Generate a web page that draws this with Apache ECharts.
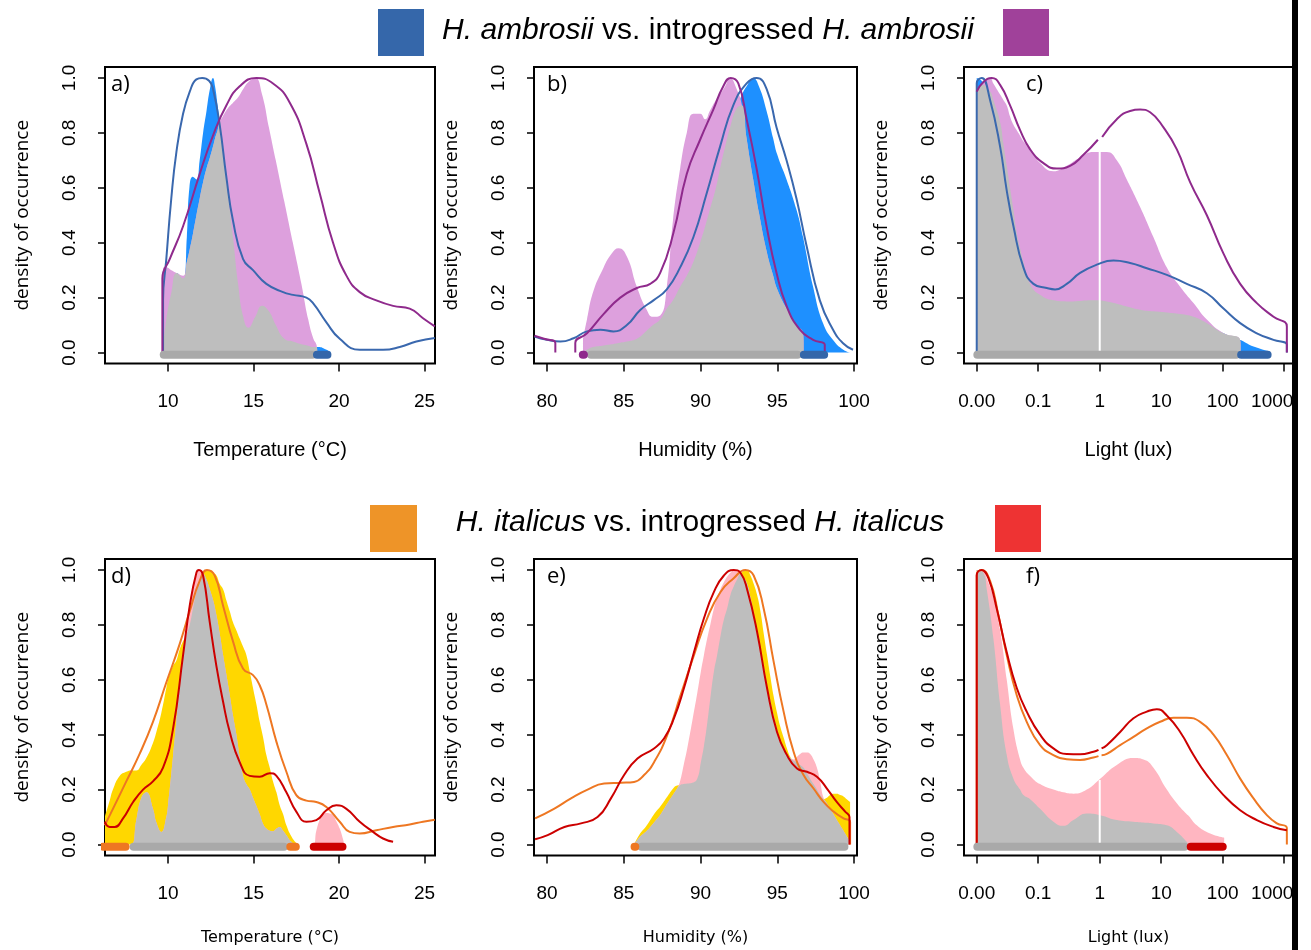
<!DOCTYPE html>
<html>
<head>
<meta charset="utf-8">
<script src="https://cdn.jsdelivr.net/npm/echarts@6/dist/echarts.min.js"></script>
<style>html,body{margin:0;padding:0;background:#fff}#c{width:1311px;height:950px}</style>
</head>
<body>
<div id="c"></div>
<script>
// ---------- tick labels ----------
const densTicks = [0, 0.2, 0.4, 0.6, 0.8, 1.0];
const tempTicks = [10, 15, 20, 25];
const humTicks = [80, 85, 90, 95, 100];
const lightTicks = [-2, -1, 0, 1, 2, 3];
const lightTickLabels = ['0.00', '0.1', '1', '10', '100', '1000'];

// ---------- panel a: temperature, H. ambrosii ----------
const aX = [9.71,9.9,10.2,10.5,10.88,11.1,11.25,11.45,11.66,11.85,12.05,12.25,12.45,12.63,12.75,12.9,13.02,13.2,13.5,13.8,14.1,14.4,14.7,15.1,15.5,15.9,16.3,16.8,17.3,17.8,18.2,18.5,18.67,18.8,19.2,19.55];
const aAmb = [0.02,0.12,0.22,0.29,0.27,0.42,0.6,0.64,0.63,0.7,0.8,0.88,0.96,1.0,0.97,0.9,0.84,0.74,0.58,0.42,0.25,0.13,0.09,0.13,0.17,0.15,0.1,0.05,0.04,0.03,0.025,0.02,0.02,0.02,0.012,0.0];
const aIntro = [0.31,0.31,0.3,0.29,0.28,0.33,0.37,0.43,0.5,0.56,0.62,0.67,0.71,0.75,0.78,0.81,0.84,0.86,0.89,0.91,0.93,0.96,0.985,1.0,0.94,0.82,0.7,0.55,0.4,0.25,0.12,0.05,0.03,0,0,0];
const aLineAmb = [[9.71,0],[9.71,0.19],[9.9,0.34],[10.19,0.56],[10.49,0.73],[10.88,0.87],[11.27,0.95],[11.66,0.995],[12.0,1.0],[12.4,0.99],[12.63,0.96],[13.02,0.83],[13.41,0.64],[13.8,0.48],[14.39,0.34],[14.97,0.3],[15.75,0.25],[16.73,0.22],[17.31,0.21],[18.09,0.2],[18.48,0.18],[19.26,0.11],[20.04,0.05],[21.21,0.01],[22.57,0.01],[23.55,0.02],[24.52,0.04],[25.6,0.053]];
const aLineIntro = [[9.67,0],[9.67,0.27],[10.1,0.34],[10.88,0.46],[11.85,0.65],[12.63,0.79],[13.41,0.9],[14.19,0.97],[15.17,1.0],[16.14,0.98],[17.12,0.91],[18.09,0.76],[18.87,0.58],[19.65,0.4],[20.43,0.28],[21.21,0.22],[22.18,0.19],[23.16,0.17],[24.13,0.16],[24.91,0.125],[25.6,0.095]];
const aRangeShared = [9.75, 18.44];
const aRangeAmb = [18.71, 19.32];

// ---------- panel b: humidity, H. ambrosii ----------
const bX = [82.34,82.6,83.0,83.6,84.2,84.66,85.2,85.85,86.5,86.9,87.37,87.8,88.2,88.67,89.1,89.53,89.97,90.3,90.6,91.0,91.27,91.6,91.92,92.35,92.7,93.0,93.43,93.8,94.3,94.73,95.0,95.6,96.25,96.68,96.75,97.33,97.98,98.63,99.3,99.72];
const bAmb = [0.0,0.01,0.02,0.025,0.03,0.035,0.04,0.05,0.08,0.1,0.12,0.16,0.19,0.24,0.28,0.33,0.4,0.46,0.52,0.6,0.67,0.75,0.82,0.89,0.94,0.97,1.0,0.97,0.88,0.78,0.72,0.63,0.52,0.42,0.4,0.24,0.107,0.046,0.01,0.0];
const bIntro = [0.05,0.12,0.22,0.3,0.36,0.38,0.35,0.24,0.155,0.13,0.135,0.24,0.48,0.67,0.8,0.87,0.87,0.85,0.88,0.92,0.94,0.97,1.0,0.96,0.9,0.78,0.63,0.51,0.37,0.28,0.23,0.16,0.1,0.07,0,0,0,0,0,0];
const bLineAmb = [[79.18,0.058],[80.0,0.046],[80.87,0.04],[81.73,0.052],[82.6,0.077],[83.47,0.083],[84.33,0.077],[85.2,0.1],[86.07,0.155],[86.93,0.19],[87.8,0.23],[88.67,0.31],[89.53,0.42],[90.4,0.58],[91.27,0.75],[92.13,0.9],[93.0,0.98],[93.65,1.0],[94.3,0.96],[94.95,0.82],[95.6,0.7],[96.25,0.56],[96.9,0.39],[97.77,0.19],[98.63,0.083],[99.28,0.034],[99.93,0.01]];
const bLineIntro = [[79.18,0.061],[79.8,0.05],[80.54,0.035],[80.54,0],[81.2,null],[81.84,0],[81.84,0.035],[82.6,0.07],[83.68,0.14],[84.77,0.2],[85.85,0.235],[86.72,0.25],[87.37,0.29],[88.23,0.435],[89.1,0.65],[89.97,0.775],[90.83,0.885],[91.48,0.97],[91.96,1.0],[92.46,0.98],[93.0,0.85],[93.65,0.67],[94.3,0.46],[94.95,0.29],[95.6,0.17],[96.47,0.083],[97.33,0.046],[98.09,0.028],[98.09,0]];
const bRangeIntro = [82.33, 82.4];
const bRangeShared = [82.86, 96.32];
const bRangeAmb = [96.73, 98.05];

// ---------- panel c: light, H. ambrosii (log10 lux) ----------
const cX = [-2.0,-1.92,-1.78,-1.73,-1.62,-1.566,-1.512,-1.458,-1.403,-1.349,-1.295,-1.241,-1.132,-0.97,-0.753,-0.536,-0.319,-0.102,0.115,0.278,0.44,0.657,0.874,1.091,1.308,1.525,1.742,2.013,2.284,2.3,2.501,2.772];
const cAmb = [1.0,0.99,0.95,0.92,0.84,0.76,0.68,0.6,0.52,0.435,0.38,0.33,0.25,0.21,0.19,0.186,0.188,0.19,0.186,0.178,0.168,0.156,0.15,0.146,0.14,0.13,0.107,0.07,0.046,0.045,0.022,0.004];
const cIntro = [0.95,0.975,1.0,0.98,0.94,0.92,0.9,0.86,0.83,0.81,0.79,0.77,0.74,0.69,0.66,0.68,0.71,0.73,0.73,0.7,0.63,0.53,0.42,0.31,0.24,0.18,0.12,0.07,0.046,0,0,0];
const cLineAmb = [[-2.0,0],[-2.0,0.98],[-1.919,1.0],[-1.783,0.92],[-1.62,0.75],[-1.512,0.59],[-1.403,0.46],[-1.241,0.31],[-1.078,0.25],[-0.861,0.235],[-0.726,0.23],[-0.536,0.25],[-0.319,0.29],[-0.048,0.32],[0.223,0.335],[0.495,0.326],[0.766,0.307],[1.091,0.283],[1.416,0.25],[1.742,0.216],[2.013,0.16],[2.284,0.107],[2.555,0.07],[2.826,0.046],[3.043,0.028],[3.043,0]];
const cLineIntro = [[-2.0,0.95],[-1.892,0.985],[-1.756,1.0],[-1.62,0.975],[-1.458,0.9],[-1.295,0.81],[-1.132,0.74],[-0.915,0.69],[-0.698,0.67],[-0.482,0.68],[-0.265,0.72],[-0.03,0.775],[0,null],[0.04,0.785],[0.278,0.85],[0.495,0.88],[0.657,0.885],[0.82,0.875],[1.037,0.82],[1.254,0.74],[1.471,0.62],[1.742,0.5],[2.013,0.36],[2.284,0.25],[2.555,0.18],[2.826,0.13],[3.043,0.095],[3.043,0]];
const cSeam = [[0,0],[0,0.73]];
const cRangeShared = [-1.99, 2.22];
const cRangeAmb = [2.3, 2.73];

// ---------- panel d: temperature, H. italicus ----------
const dX = [6.3,6.59,6.78,7.17,7.56,7.86,8.15,8.44,8.73,9.12,9.32,9.61,9.9,10.0,10.29,10.49,10.68,10.88,11.07,11.27,11.46,11.66,11.85,12.05,12.25,12.44,12.64,12.83,13.02,13.22,13.41,13.61,13.8,14.0,14.19,14.39,14.58,14.78,14.97,15.17,15.36,15.56,15.75,15.95,16.14,16.34,16.53,16.73,16.92,17.21,17.5,17.6,18.48,18.67,18.87,19.06,19.26,19.45,19.65,19.84,20.04,20.23,20.3];
const dIta = [0.1,0.16,0.2,0.25,0.265,0.27,0.27,0.29,0.315,0.37,0.41,0.48,0.57,0.6,0.65,0.67,0.71,0.74,0.76,0.8,0.86,0.92,0.96,0.985,1.0,1.0,0.99,0.98,0.95,0.93,0.89,0.85,0.81,0.78,0.75,0.72,0.69,0.63,0.57,0.51,0.447,0.39,0.326,0.28,0.23,0.19,0.143,0.11,0.07,0.03,0.005,0,0,0,0,0,0,0,0,0,0,0,0];
const dIntro = [0,0,0,0,0,0,0.09,0.17,0.19,0.13,0.08,0.046,0.1,0.143,0.32,0.45,0.58,0.7,0.8,0.88,0.94,0.98,1.0,0.99,0.965,0.93,0.89,0.836,0.77,0.69,0.62,0.545,0.47,0.4,0.32,0.25,0.22,0.2,0.17,0.14,0.11,0.075,0.058,0.05,0.048,0.058,0.064,0.05,0.034,0.01,0,0,0,0.05,0.09,0.11,0.115,0.113,0.107,0.085,0.058,0.02,0];
const dLineIta = [[6.3,0.07],[6.78,0.13],[7.56,0.23],[8.34,0.33],[9.12,0.447],[9.9,0.59],[10.68,0.73],[11.27,0.85],[11.85,0.96],[12.28,1.0],[12.73,0.98],[13.22,0.87],[13.8,0.74],[14.39,0.64],[14.97,0.617],[15.36,0.58],[15.75,0.51],[16.34,0.374],[16.92,0.265],[17.5,0.18],[18.09,0.16],[18.67,0.155],[19.26,0.137],[20.04,0.083],[20.62,0.046],[21.21,0.04],[22.18,0.052],[23.16,0.064],[24.13,0.073],[24.91,0.083],[25.6,0.09]];
const dLineIntro = [[6.3,0.083],[6.59,0.064],[6.88,0.064],[7.37,0.095],[7.96,0.155],[8.54,0.2],[9.12,0.23],[9.71,0.28],[10.29,0.42],[10.88,0.69],[11.27,0.87],[11.66,0.99],[11.81,1.0],[12.05,0.98],[12.44,0.81],[12.83,0.65],[13.22,0.52],[13.61,0.41],[14.19,0.3],[14.78,0.25],[15.36,0.247],[15.95,0.26],[16.34,0.25],[16.92,0.19],[17.5,0.12],[18.09,0.083],[18.67,0.089],[19.26,0.125],[19.84,0.143],[20.43,0.13],[21.21,0.083],[21.99,0.046],[22.57,0.022],[23.16,0.01]];
const dRangeItaLow = [6.2, 7.52];
const dRangeShared = [7.99, 16.78];
const dRangeItaHigh = [17.15, 17.47];
const dRangeIntro = [18.52, 20.2];

// ---------- panel e: humidity, H. italicus ----------
const eX = [85.67,86.0,86.5,86.97,87.4,87.84,88.31,88.48,88.66,88.9,89.13,89.46,89.78,90.02,90.22,90.43,90.63,90.87,91.08,91.3,91.52,91.73,91.95,92.16,92.38,92.6,92.77,93.03,93.25,93.46,93.68,93.9,94.11,94.33,94.55,94.76,94.98,95.19,95.41,95.63,95.84,96.06,96.28,96.49,96.71,96.93,97.14,97.36,97.58,97.79,98.01,98.23,98.44,98.66,98.87,99.09,99.31,99.52,99.74];
const eIta = [0.0,0.035,0.07,0.11,0.14,0.175,0.21,0.215,0.216,0.22,0.222,0.225,0.24,0.3,0.36,0.44,0.53,0.63,0.69,0.76,0.82,0.86,0.91,0.94,0.965,0.985,0.995,1.0,0.98,0.95,0.91,0.85,0.77,0.69,0.61,0.54,0.48,0.43,0.39,0.35,0.32,0.305,0.3,0.29,0.28,0.26,0.24,0.22,0.2,0.18,0.165,0.17,0.18,0.185,0.185,0.18,0.175,0.165,0.155];
const eIntro = [0,0.025,0.05,0.08,0.11,0.15,0.19,0.205,0.23,0.29,0.35,0.45,0.55,0.63,0.69,0.75,0.8,0.86,0.9,0.93,0.955,0.975,0.99,0.998,1.0,0.99,0.975,0.95,0.9,0.84,0.78,0.71,0.65,0.58,0.52,0.47,0.42,0.38,0.35,0.33,0.315,0.31,0.32,0.33,0.335,0.335,0.33,0.31,0.28,0.23,0.17,0.15,0.13,0.11,0.09,0.07,0.05,0.03,0.01];
const eLineIta = [[79.22,0.095],[80.48,0.131],[81.56,0.168],[82.64,0.2],[83.72,0.222],[84.81,0.225],[85.67,0.228],[86.32,0.253],[86.97,0.3],[87.84,0.4],[88.7,0.544],[89.57,0.69],[90.43,0.824],[91.3,0.92],[92.16,0.97],[92.92,1.0],[93.46,0.98],[94.11,0.86],[94.76,0.666],[95.41,0.484],[96.06,0.338],[96.71,0.253],[97.36,0.204],[98.01,0.155],[98.66,0.12],[99.31,0.095],[99.74,0.083],[99.74,0]];
const eLineIntro = [[79.22,0.019],[80.04,0.034],[81.13,0.064],[82.21,0.077],[83.29,0.1],[84.16,0.168],[85.02,0.253],[85.89,0.313],[86.97,0.35],[87.62,0.386],[88.27,0.46],[88.92,0.57],[89.57,0.7],[90.22,0.824],[90.87,0.92],[91.52,0.98],[92.16,1.0],[92.6,0.99],[93.03,0.93],[93.68,0.775],[94.33,0.57],[94.98,0.41],[95.63,0.326],[96.28,0.277],[96.93,0.265],[97.58,0.247],[98.23,0.204],[98.87,0.155],[99.42,0.12],[99.7,0.1],[99.7,0]];
const eRangeItaLow = [85.7, 85.75];
const eRangeShared = [86.15, 99.37];
const eRangeItaHigh = [99.68, 99.72];

// ---------- panel f: light, H. italicus (log10 lux) ----------
const fX = [-2.0,-1.892,-1.837,-1.729,-1.62,-1.512,-1.403,-1.295,-1.241,-1.132,-0.97,-0.753,-0.59,-0.427,-0.21,0.007,0.278,0.549,0.711,0.874,1.091,1.254,1.416,1.444,1.579,1.796,2.024];
const fIta = [1.0,0.99,0.93,0.75,0.51,0.326,0.24,0.2,0.18,0.165,0.13,0.083,0.068,0.089,0.113,0.107,0.089,0.083,0.08,0.077,0.07,0.046,0.01,0,0,0,0];
const fIntro = [1.0,1.0,0.97,0.9,0.78,0.6,0.42,0.31,0.28,0.25,0.22,0.2,0.19,0.185,0.2,0.24,0.29,0.315,0.31,0.28,0.2,0.15,0.11,0.105,0.07,0.04,0.025];
const fLineIta = [[-2.0,0],[-2.0,0.98],[-1.919,1.0],[-1.783,0.96],[-1.648,0.836],[-1.512,0.69],[-1.349,0.544],[-1.187,0.447],[-0.97,0.362],[-0.753,0.326],[-0.536,0.311],[-0.319,0.308],[-0.102,0.317],[-0.02,0.322],[0,null],[0.03,0.325],[0.115,0.33],[0.332,0.362],[0.549,0.392],[0.766,0.423],[0.983,0.447],[1.2,0.462],[1.416,0.462],[1.633,0.447],[1.85,0.4],[2.067,0.326],[2.284,0.24],[2.501,0.168],[2.718,0.107],[2.881,0.077],[3.043,0.06],[3.043,0]];
const fLineIntro = [[-2.0,0],[-2.0,0.98],[-1.919,1.0],[-1.81,0.97],[-1.675,0.86],[-1.512,0.7],[-1.349,0.57],[-1.187,0.484],[-0.97,0.4],[-0.753,0.35],[-0.536,0.33],[-0.319,0.329],[-0.102,0.338],[-0.02,0.345],[0,null],[0.03,0.35],[0.115,0.362],[0.332,0.41],[0.549,0.46],[0.766,0.484],[0.928,0.493],[1.091,0.47],[1.308,0.41],[1.525,0.326],[1.742,0.253],[2.013,0.18],[2.284,0.125],[2.555,0.089],[2.826,0.064],[3.043,0.052]];
const fSeam = [[0,0],[0,0.235]];
const fRangeShared = [-1.99, 1.38];
const fRangeIntro = [1.48, 2.0];

// ---------- styling ----------
const C = {
  ambFill:'#1E90FF', ambIntroFill:'#DDA0DD', itaFill:'#FFD700', itaIntroFill:'#FFB6C1', overlap:'#BEBEBE',
  ambLine:'#3A68AE', ambIntroLine:'#8F2A8C', itaLine:'#EE7722', itaIntroLine:'#CC0000',
  shared:'#A9A9A9', ambBar:'#3466A9'
};
const BAR_Y = -0.008;
const SMOOTH = 0.5;
const GRIDS = [
  {left:105, top:67, width:330, height:296.5},
  {left:534, top:67, width:323, height:296.5},
  {left:964, top:67, width:329, height:296.5},
  {left:105, top:559, width:330, height:296.5},
  {left:534, top:559, width:323, height:296.5},
  {left:964, top:559, width:329, height:296.5}
];
const TEMP_RANGE = [6.316, 25.61], HUM_RANGE = [79.15, 100.19], LIGHT_RANGE = [-2.207, 3.143];

const topName = {fontSize:20, fontFamily:'Liberation Sans', color:'#000'};
const botName = {fontSize:16, fontFamily:'DejaVu Sans', color:'#000'};
const lightFmt = v => {
  const s = lightTickLabels[lightTicks.indexOf(Math.round(v))];
  return s === '1000' ? '{r|' + s + '}' : s;
};
const numFmt = v => String(v);

const panels = [
  {x:aX, f1:aAmb, f2:aIntro, c1:C.ambFill, c2:C.ambIntroFill, l1:aLineAmb, l2:aLineIntro, lc1:C.ambLine, lc2:C.ambIntroLine,
   range:TEMP_RANGE, ticks:tempTicks, fmt:numFmt, name:'Temperature (°C)', ns:topName, ng:77,
   bars:[[aRangeShared,C.shared],[aRangeAmb,C.ambBar]], label:'a)', lx:111},
  {x:bX, f1:bAmb, f2:bIntro, c1:C.ambFill, c2:C.ambIntroFill, l1:bLineAmb, l2:bLineIntro, lc1:C.ambLine, lc2:C.ambIntroLine,
   range:HUM_RANGE, ticks:humTicks, fmt:numFmt, name:'Humidity (%)', ns:topName, ng:77,
   bars:[[bRangeShared,C.shared],[bRangeIntro,C.ambIntroLine],[bRangeAmb,C.ambBar]], label:'b)', lx:547},
  {x:cX, f1:cAmb, f2:cIntro, c1:C.ambFill, c2:C.ambIntroFill, l1:cLineAmb, l2:cLineIntro, lc1:C.ambLine, lc2:C.ambIntroLine,
   range:LIGHT_RANGE, ticks:lightTicks, fmt:lightFmt, name:'Light (lux)', ns:topName, ng:77,
   bars:[[cRangeShared,C.shared],[cRangeAmb,C.ambBar]], seam:cSeam, label:'c)', lx:1026},
  {x:dX, f1:dIta, f2:dIntro, c1:C.itaFill, c2:C.itaIntroFill, l1:dLineIta, l2:dLineIntro, lc1:C.itaLine, lc2:C.itaIntroLine,
   range:TEMP_RANGE, ticks:tempTicks, fmt:numFmt, name:'Temperature (°C)', ns:botName, ng:74,
   bars:[[dRangeShared,C.shared],[dRangeItaLow,C.itaLine],[dRangeItaHigh,C.itaLine],[dRangeIntro,C.itaIntroLine]], label:'d)', lx:111},
  {x:eX, f1:eIta, f2:eIntro, c1:C.itaFill, c2:C.itaIntroFill, l1:eLineIta, l2:eLineIntro, lc1:C.itaLine, lc2:C.itaIntroLine,
   range:HUM_RANGE, ticks:humTicks, fmt:numFmt, name:'Humidity (%)', ns:botName, ng:74,
   bars:[[eRangeShared,C.shared],[eRangeItaLow,C.itaLine],[eRangeItaHigh,C.itaLine]], label:'e)', lx:547},
  {x:fX, f1:fIta, f2:fIntro, c1:C.itaFill, c2:C.itaIntroFill, l1:fLineIta, l2:fLineIntro, lc1:C.itaLine, lc2:C.itaIntroLine,
   range:LIGHT_RANGE, ticks:lightTicks, fmt:lightFmt, name:'Light (lux)', ns:botName, ng:74,
   bars:[[fRangeShared,C.shared],[fRangeIntro,C.itaIntroLine]], seam:fSeam, label:'f)', lx:1026}
];

const option = {animation:false, backgroundColor:'#fff', grid:[], xAxis:[], yAxis:[], series:[], graphic:[]};

panels.forEach((p, i) => {
  option.grid.push(Object.assign({show:true, borderColor:'#000', borderWidth:2, backgroundColor:'rgba(0,0,0,0)'}, GRIDS[i]));
  option.xAxis.push({
    gridIndex:i, type:'value', min:p.range[0], max:p.range[1], position:'bottom',
    axisLine:{show:false, onZero:false}, splitLine:{show:false},
    axisTick:{show:true, customValues:p.ticks, length:8, lineStyle:{color:'#000', width:1.5}},
    axisLabel:{customValues:p.ticks, formatter:p.fmt, margin:29, color:'#000', fontSize:19, fontFamily:'Liberation Sans',
      rich:{r:{fontSize:19, fontFamily:'Liberation Sans', color:'#000', padding:[0,24,0,0]}}},
    name:p.name, nameLocation:'middle', nameGap:p.ng, nameTextStyle:p.ns
  });
  option.yAxis.push({
    gridIndex:i, type:'value', min:-0.04, max:1.04, position:'left',
    axisLine:{show:false, onZero:false}, splitLine:{show:false},
    axisTick:{show:true, customValues:densTicks, length:7, lineStyle:{color:'#000', width:1.5}},
    axisLabel:{customValues:densTicks, formatter:v=>v.toFixed(1), rotate:90, margin:26, color:'#000', fontSize:19, fontFamily:'Liberation Sans'},
    name:'density of occurrence', nameLocation:'middle', nameGap:73,
    nameTextStyle:{fontSize:19, fontFamily:'Open Sans', color:'#000'}
  });
  const base = {type:'line', xAxisIndex:i, yAxisIndex:i, showSymbol:false, symbol:'none', silent:true, animation:false};
  const fill = (ys, color) => Object.assign({}, base, {
    data:p.x.map((x, k) => [x, ys[k]]), smooth:SMOOTH,
    lineStyle:{width:0}, areaStyle:{color:color, opacity:1}
  });
  option.series.push(fill(p.f1, p.c1));
  option.series.push(fill(p.f2, p.c2));
  option.series.push(fill(p.f1.map((v, k) => Math.min(v, p.f2[k])), C.overlap));
  if (p.seam) option.series.push(Object.assign({}, base, {data:p.seam, lineStyle:{color:'#fff', width:2}}));
  const line = (d, color) => Object.assign({}, base, {data:d, smooth:SMOOTH, connectNulls:false, lineStyle:{color:color, width:2}});
  option.series.push(line(p.l1, p.lc1));
  option.series.push(line(p.l2, p.lc2));
  p.bars.forEach(b => {
    option.series.push(Object.assign({}, base, {data:[[b[0][0], BAR_Y], [b[0][1], BAR_Y]], lineStyle:{color:b[1], width:8, cap:'round'}}));
  });
  option.graphic.push({type:'text', x:p.lx, y:GRIDS[i].top + 18, style:{text:p.label, fill:'#000', fontSize:22, fontFamily:'Open Sans', verticalAlign:'middle'}});
});

// titles and legend squares
option.graphic.push(
  {type:'rect', shape:{x:378, y:9, width:46, height:47}, style:{fill:'#3567AA'}},
  {type:'rect', shape:{x:1003, y:9, width:46, height:47}, style:{fill:'#A0419A'}},
  {type:'text', x:708, y:31, style:{text:'{i|H. ambrosii} vs. introgressed {i|H. ambrosii}', fill:'#000', fontSize:30, fontFamily:'Liberation Sans', align:'center', verticalAlign:'middle',
    rich:{i:{fontStyle:'italic', fontSize:30, fontFamily:'Liberation Sans', fill:'#000'}}}},
  {type:'rect', shape:{x:370, y:505, width:47, height:47}, style:{fill:'#EE9428'}},
  {type:'rect', shape:{x:995, y:505, width:46, height:47}, style:{fill:'#EE3333'}},
  {type:'text', x:700, y:523, style:{text:'{i|H. italicus} vs. introgressed {i|H. italicus}', fill:'#000', fontSize:30, fontFamily:'Liberation Sans', align:'center', verticalAlign:'middle',
    rich:{i:{fontStyle:'italic', fontSize:30, fontFamily:'Liberation Sans', fill:'#000'}}}},
  {type:'rect', shape:{x:1292, y:0, width:6, height:950}, style:{fill:'#000'}}
);

const chart = echarts.init(document.getElementById('c'), null, {renderer:'canvas', width:1311, height:950});
chart.setOption(option);
</script>
</body>
</html>
